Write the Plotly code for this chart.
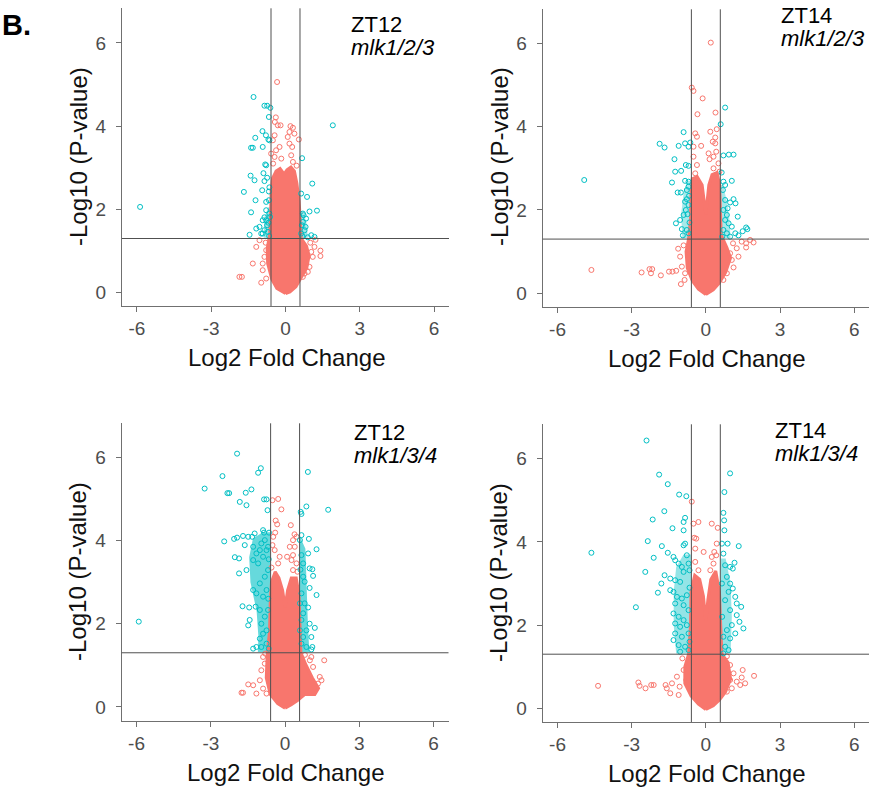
import plotly.graph_objects as go

# ---------------- data ----------------
x_ticks = [-6, -3, 0, 3, 6]
x_tick_text = ["-6", "-3", "0", "3", "6"]
y_ticks = [0, 2, 4, 6]
y_tick_text = ["0", "2", "4", "6"]
fc_cut = 0.585      # log2(1.5)
p_cut = 1.301       # -log10(0.05)

panel_time = ["ZT12", "ZT14", "ZT12", "ZT14"]
panel_geno = ["mlk1/2/3", "mlk1/2/3", "mlk1/3/4", "mlk1/3/4"]

# panel 1: ZT12 mlk1/2/3
p1_teal = [(-5.87, 2.06), (1.91, 4.02), (-1.29, 4.70), (-0.85, 4.49), (-0.74, 4.49), (-0.61, 4.44),
           (-0.67, 4.22), (-0.93, 3.88), (-0.79, 3.78), (-1.22, 3.72), (-0.69, 3.68), (-0.65, 3.66),
           (-1.32, 3.48), (-1.39, 3.48), (-0.92, 3.50), (0.67, 3.23), (-0.82, 3.08), (-0.78, 3.06),
           (-1.41, 2.81), (-0.89, 2.87), (-1.25, 2.70), (-0.85, 2.68), (-0.74, 2.76), (1.08, 2.62),
           (-1.68, 2.42), (-0.94, 2.46), (-0.67, 2.43), (-0.65, 2.53), (0.87, 2.30), (-1.21, 2.22),
           (-0.78, 2.18), (-0.67, 2.22), (0.63, 2.38), (1.27, 1.97), (0.97, 1.95), (-1.39, 1.93),
           (0.70, 1.90), (-0.85, 1.81), (-0.78, 1.74), (-0.69, 1.68), (-1.18, 1.54), (-1.05, 1.58),
           (-0.85, 1.50), (-1.45, 1.39), (-0.98, 1.42), (-0.71, 1.46), (0.70, 1.70), (0.83, 1.78),
           (0.77, 1.50), (1.04, 1.38), (1.17, 1.34), (0.63, 1.42), (0.90, 1.33), (0.73, 1.86),
           (0.81, 1.58), (-0.78, 1.98), (-0.65, 1.90), (-0.62, 1.82), (-0.92, 1.74), (-0.74, 1.62),
           (-0.92, 1.42), (0.66, 1.62), (0.68, 1.36), (-0.66, 1.36)]
p1_salmon = [(-0.34, 5.06), (-0.39, 4.21), (-0.43, 4.10), (-0.31, 4.02), (-0.20, 4.02), (0.20, 4.00),
             (0.30, 3.96), (0.16, 3.86), (0.36, 3.82), (0.09, 3.74), (0.54, 3.68), (-0.44, 3.78),
             (-0.51, 3.66), (-0.24, 3.50), (0.16, 3.58), (0.27, 3.50), (-0.38, 3.42), (-0.58, 3.34),
             (-0.44, 3.26), (-0.17, 3.22), (0.23, 3.30), (0.30, 3.14), (-0.50, 3.10), (0.45, 3.05),
             (-1.18, 1.10), (-1.05, 1.26), (-1.32, 0.70), (-1.86, 0.38), (-1.76, 0.38), (-0.98, 0.24),
             (-0.92, 0.54), (-0.78, 0.34), (-0.85, 0.86), (-0.92, 0.70), (-0.78, 1.02), (1.41, 1.01),
             (1.41, 0.88), (1.21, 1.27), (1.17, 1.10), (1.10, 0.86), (0.97, 0.62), (0.77, 0.46),
             (0.70, 0.38), (1.04, 0.98), (0.83, 0.70), (1.00, 1.20), (0.90, 0.50), (-0.80, 1.20)]
p1_core_x = [0.00, -0.35, -0.55, -0.72, -0.74, -0.64, -0.60, -0.58, -0.52, -0.38, -0.22, -0.06,
             0.06, 0.22, 0.36, 0.46, 0.55, 0.60, 0.64, 0.85, 0.95, 0.86, 0.62, 0.42, 0.18]
p1_core_y = [-0.02, 0.10, 0.32, 0.70, 1.05, 1.40, 1.90, 2.40, 2.75, 2.92, 2.98, 2.85,
             2.95, 3.02, 2.92, 2.62, 2.20, 1.70, 1.30, 1.12, 0.88, 0.60, 0.36, 0.14, 0.02]
# densest teal clusters beside the fold-change cut-offs (outlines)
p1_band_x = [[-0.60, -0.88, -0.86, -0.70, -0.60], [0.60, 0.90, 0.84, 0.70, 0.60]]
p1_band_y = [[1.32, 1.32, 1.80, 2.05, 2.05], [1.32, 1.32, 1.70, 1.95, 1.95]]

# panel 2: ZT14 mlk1/2/3
p2_teal = [(-4.92, 2.72), (0.78, 4.46), (0.60, 4.06), (-0.90, 3.87), (-1.87, 3.59), (-1.67, 3.50),
           (-1.10, 3.54), (-0.84, 3.60), (-0.63, 3.62), (-0.70, 3.52), (1.12, 3.33), (0.93, 3.33),
           (0.71, 3.31), (-1.27, 3.22), (-1.24, 2.92), (-1.00, 2.94), (-0.81, 3.08), (-0.70, 3.06),
           (-1.37, 2.66), (-0.84, 2.70), (-0.70, 2.68), (-1.14, 2.42), (-1.01, 2.42), (-0.77, 2.48),
           (-0.70, 2.56), (1.05, 2.70), (0.71, 2.68), (0.78, 2.60), (0.69, 2.48), (1.12, 2.26),
           (1.20, 2.16), (0.98, 2.18), (0.78, 2.24), (-0.77, 2.26), (-0.84, 2.20), (-0.70, 2.12),
           (-0.81, 2.00), (-0.74, 1.90), (-0.90, 1.88), (-1.04, 1.76), (-1.21, 1.68), (-0.97, 1.54),
           (-0.77, 1.52), (-0.93, 1.39), (-0.70, 1.44), (1.29, 1.84), (0.85, 1.88), (0.78, 1.76),
           (0.92, 1.68), (1.05, 1.60), (1.63, 1.58), (1.68, 1.54), (1.49, 1.49), (1.32, 1.39),
           (1.19, 1.44), (0.85, 1.44), (0.98, 1.36), (0.71, 1.52), (0.71, 2.00), (0.88, 2.04),
           (-0.66, 1.70), (-0.68, 2.34), (0.66, 1.36), (0.64, 2.90)]
p2_salmon = [(0.20, 6.02), (-0.57, 4.94), (-0.50, 4.86), (-0.13, 4.68), (0.39, 4.34), (-0.34, 4.30),
             (0.44, 3.94), (0.18, 3.88), (-0.43, 3.84), (-0.36, 3.76), (0.38, 3.74), (0.28, 3.64),
             (0.38, 3.60), (-0.50, 3.52), (-0.19, 3.54), (0.11, 3.36), (0.42, 3.40), (0.31, 3.28),
             (0.15, 3.22), (0.51, 3.12), (-0.50, 3.28), (-0.36, 3.08), (-0.43, 2.88), (0.31, 3.00),
             (0.55, 2.92), (-4.63, 0.56), (-2.60, 0.50), (-2.28, 0.58), (-2.17, 0.58), (-2.22, 0.48),
             (-1.82, 0.43), (-1.49, 0.52), (-1.35, 0.52), (-1.20, 0.54), (-1.12, 1.07), (-1.04, 0.88),
             (-1.01, 0.22), (-0.86, 0.32), (-0.97, 0.64), (-0.84, 0.48), (1.12, 0.62), (1.93, 1.22),
             (1.79, 1.28), (1.63, 1.20), (1.45, 1.24), (1.63, 1.10), (1.32, 0.88), (1.25, 1.08),
             (1.05, 0.80), (0.98, 0.96), (0.85, 0.48), (0.71, 0.32), (1.10, 1.20), (-0.90, 1.15)]
p2_core_x = [0.00, -0.30, -0.55, -0.75, -0.80, -0.70, -0.62, -0.60, -0.55, -0.35, -0.15, -0.05,
             0.00, 0.05, 0.12, 0.25, 0.45, 0.56, 0.60, 0.62, 0.85, 1.00, 0.80, 0.55, 0.30]
p2_core_y = [-0.03, 0.10, 0.30, 0.60, 1.00, 1.30, 1.80, 2.40, 2.75, 2.80, 2.60, 2.20,
             1.90, 2.20, 2.60, 2.85, 2.90, 2.60, 2.00, 1.40, 1.10, 0.85, 0.50, 0.25, 0.08]
p2_band_x = [[-0.60, -0.95, -1.00, -0.90, -0.75, -0.60], [0.60, 1.00, 0.95, 0.85, 0.70, 0.60]]
p2_band_y = [[1.32, 1.32, 1.90, 2.40, 2.70, 2.70], [1.32, 1.32, 1.80, 2.20, 2.60, 2.60]]

# panel 3: ZT12 mlk1/3/4
p3_teal = [(-5.91, 2.05), (-1.94, 6.09), (-0.98, 5.74), (-1.09, 5.63), (-2.53, 5.55), (-3.25, 5.25),
           (-2.33, 5.14), (-2.26, 5.14), (-1.59, 5.15), (-1.36, 5.23), (-1.83, 4.93), (-1.56, 4.85),
           (-0.85, 4.99), (-0.75, 4.99), (-0.71, 4.73), (0.92, 5.65), (0.86, 4.82), (0.63, 4.69),
           (0.66, 4.64), (1.74, 4.74), (-2.46, 3.98), (-2.06, 4.04), (-1.94, 4.07), (-1.70, 4.11),
           (-1.49, 4.09), (-1.33, 4.09), (-1.23, 4.17), (-0.89, 4.25), (-0.85, 4.19), (-0.65, 4.19),
           (-1.63, 3.89), (-2.03, 3.60), (-1.86, 3.57), (-1.86, 3.21), (-1.56, 3.29), (-1.29, 3.85),
           (-1.16, 3.69), (-1.02, 3.77), (-1.29, 3.53), (-1.09, 3.45), (-0.89, 3.61), (-0.75, 3.77),
           (-0.96, 3.93), (-0.82, 4.01), (-0.69, 3.85), (-1.29, 2.81), (-1.16, 2.73), (-1.02, 2.97),
           (-0.82, 3.13), (-0.75, 2.81), (-0.69, 3.29), (-0.89, 2.65), (-1.72, 2.42), (-1.45, 2.39),
           (-1.19, 2.41), (-1.02, 2.33), (-1.43, 2.09), (-1.49, 1.96), (-0.96, 2.00), (-0.82, 2.17),
           (-0.69, 2.33), (-0.89, 1.76), (-0.75, 1.84), (-1.02, 1.64), (-1.16, 1.44), (-1.29, 1.40),
           (-0.96, 1.44), (-0.75, 1.52), (0.66, 4.13), (0.60, 4.01), (0.96, 4.04), (1.27, 3.79),
           (0.93, 3.69), (0.66, 3.65), (0.73, 3.45), (0.99, 3.33), (1.10, 3.31), (1.13, 3.15),
           (1.27, 2.69), (0.99, 2.86), (0.79, 3.01), (0.73, 3.13), (0.66, 2.73), (0.79, 2.49),
           (0.93, 2.39), (0.73, 2.25), (0.99, 2.00), (1.20, 1.90), (1.06, 1.68), (0.86, 1.84),
           (0.66, 2.09), (0.73, 1.68), (0.66, 1.52), (0.86, 1.44), (1.06, 1.38), (1.10, 1.44),
           (0.60, 1.84), (0.60, 2.49), (-0.66, 1.40), (-0.68, 2.60), (-0.66, 3.55), (0.62, 3.30)]
p3_salmon = [(-0.51, 4.97), (-0.28, 5.00), (-0.15, 4.75), (-0.38, 4.48), (-0.32, 4.39), (0.23, 4.37),
             (-0.40, 4.19), (0.38, 4.15), (0.46, 4.09), (0.32, 4.01), (0.19, 3.85), (0.39, 3.85),
             (-0.48, 4.09), (-0.51, 3.89), (-0.42, 3.77), (-0.22, 3.61), (-0.28, 3.45), (0.08, 3.61),
             (0.26, 3.53), (0.46, 3.45), (0.32, 3.29), (0.32, 3.65), (1.58, 1.12), (1.40, 0.72),
             (1.47, 0.64), (1.33, 0.56), (1.20, 0.48), (1.13, 0.96), (1.00, 1.12), (1.06, 1.20),
             (0.93, 0.80), (-1.49, 0.54), (-1.29, 0.52), (-1.76, 0.34), (-1.70, 0.34), (-1.16, 0.32),
             (-1.02, 0.64), (-0.96, 0.88), (-0.89, 1.20), (-0.82, 1.04), (-0.89, 0.44), (-0.75, 0.32),
             (-0.55, 3.35), (0.50, 3.25), (0.80, 1.25), (-0.80, 1.28)]
p3_core_x = [0.00, -0.30, -0.60, -0.76, -0.72, -0.63, -0.60, -0.55, -0.40, -0.25, -0.10, 0.00,
             0.10, 0.25, 0.45, 0.56, 0.60, 0.64, 0.85, 1.10, 1.35, 1.20, 0.80, 0.50, 0.25]
p3_core_y = [-0.03, 0.08, 0.30, 0.70, 1.30, 1.80, 2.50, 3.00, 3.25, 3.10, 2.80, 2.40,
             2.80, 3.10, 3.10, 2.70, 2.00, 1.30, 1.00, 0.70, 0.45, 0.30, 0.30, 0.15, 0.05]
p3_band_x = [[-0.60, -1.10, -1.08, -1.15, -1.40, -1.45, -1.30, -0.90, -0.60],
             [0.60, 0.98, 0.92, 0.88, 0.82, 0.60]]
p3_band_y = [[1.32, 1.32, 1.70, 2.30, 3.00, 3.60, 4.05, 4.20, 4.20],
             [1.32, 1.32, 2.00, 3.00, 3.80, 4.10]]

# panel 4: ZT14 mlk1/3/4
p4_teal = [(-2.40, 6.44), (0.98, 5.65), (-1.89, 5.62), (-1.54, 5.39), (0.75, 5.20), (-1.08, 5.14),
           (-0.79, 5.10), (-1.68, 4.74), (0.71, 4.70), (0.74, 4.52), (-0.84, 4.58), (-0.90, 4.48),
           (-2.15, 4.54), (-1.35, 4.33), (-0.90, 4.28), (0.75, 4.28), (-2.35, 4.02), (-1.78, 3.90),
           (-0.90, 3.92), (-0.84, 3.96), (0.65, 3.96), (0.88, 3.96), (1.33, 3.90), (-1.54, 3.74),
           (-2.11, 3.62), (-1.31, 3.64), (-1.24, 3.56), (-1.10, 3.48), (-0.77, 3.68), (-0.70, 3.48),
           (-0.97, 3.40), (-0.90, 3.28), (-0.66, 3.32), (-2.45, 3.28), (-1.67, 3.20), (-1.44, 3.12),
           (-1.24, 3.08), (-1.04, 3.04), (-1.80, 3.00), (-1.44, 2.84), (-1.31, 2.80), (-1.94, 2.78),
           (-1.17, 2.68), (-0.97, 2.64), (-0.77, 2.72), (-1.24, 2.52), (-0.90, 2.48), (-0.70, 2.36),
           (-2.83, 2.43), (-1.31, 2.28), (-1.10, 2.20), (-0.90, 2.12), (-1.24, 2.04), (-1.04, 1.96),
           (-0.77, 2.00), (-1.24, 1.80), (-0.97, 1.72), (-0.70, 1.80), (-1.31, 1.64), (-1.10, 1.52),
           (-0.84, 1.48), (-1.04, 1.36), (-0.70, 1.40), (0.71, 3.72), (0.78, 3.44), (0.98, 3.40),
           (1.16, 3.50), (1.09, 3.36), (0.85, 3.16), (0.98, 3.00), (1.09, 2.88), (1.19, 2.68),
           (0.92, 2.80), (0.78, 2.60), (1.25, 2.52), (1.43, 2.44), (0.98, 2.36), (1.25, 2.24),
           (1.36, 2.08), (1.05, 2.00), (1.52, 1.92), (1.19, 1.80), (0.85, 1.88), (0.98, 1.68),
           (0.71, 1.72), (0.78, 1.48), (0.92, 1.40), (0.71, 1.32), (-4.63, 3.74), (0.66, 2.20),
           (0.65, 3.00), (-0.66, 2.90), (-0.66, 1.60)]
p4_salmon = [(-0.57, 4.97), (-0.50, 4.44), (-0.30, 4.48), (0.24, 4.44), (0.48, 4.34), (-0.47, 4.10),
             (-0.39, 4.08), (0.44, 3.96), (-0.43, 3.84), (-0.09, 3.76), (0.34, 3.76), (0.24, 3.64),
             (0.42, 3.68), (-0.43, 3.52), (0.31, 3.48), (0.18, 3.32), (-0.30, 3.32), (-4.36, 0.54),
             (-2.73, 0.62), (-2.68, 0.54), (-2.44, 0.48), (-2.21, 0.56), (-2.11, 0.56), (-1.63, 0.56),
             (-1.58, 0.48), (-1.37, 0.60), (-1.44, 0.36), (-1.10, 0.32), (-1.17, 0.76), (-1.06, 0.52),
             (-0.90, 0.92), (-0.79, 0.68), (1.95, 0.78), (1.49, 0.92), (1.45, 0.74), (1.59, 0.60),
             (1.39, 0.56), (1.25, 0.64), (1.12, 0.84), (0.98, 1.04), (1.05, 0.48), (0.85, 0.40),
             (0.98, 0.68), (-0.95, 1.20), (0.85, 1.25)]
p4_core_x = [0.00, -0.30, -0.60, -0.85, -0.85, -0.70, -0.62, -0.60, -0.45, -0.25, -0.10, 0.00,
             0.08, 0.20, 0.40, 0.55, 0.60, 0.65, 0.90, 1.00, 0.80, 0.55, 0.30]
p4_core_y = [-0.03, 0.10, 0.30, 0.60, 1.00, 1.30, 2.00, 2.80, 3.20, 3.10, 2.70, 2.10,
             2.60, 3.10, 3.30, 2.80, 2.00, 1.30, 1.10, 0.70, 0.40, 0.20, 0.06]
p4_band_x = [[-0.60, -1.20, -1.30, -1.30, -1.20, -0.90, -0.60],
             [0.60, 1.00, 1.05, 1.00, 0.80, 0.60]]
p4_band_y = [[1.32, 1.32, 2.00, 2.80, 3.40, 3.70, 3.70],
             [1.32, 1.32, 2.20, 3.00, 3.60, 3.60]]

panels = [
    (p1_teal, p1_salmon, p1_core_x, p1_core_y, p1_band_x, p1_band_y, 0.40),
    (p2_teal, p2_salmon, p2_core_x, p2_core_y, p2_band_x, p2_band_y, 0.35),
    (p3_teal, p3_salmon, p3_core_x, p3_core_y, p3_band_x, p3_band_y, 0.60),
    (p4_teal, p4_salmon, p4_core_x, p4_core_y, p4_band_x, p4_band_y, 0.42),
]

# ---------------- layout geometry (pixels in an 869x787 page) ----------------
W, H = 869, 787
TEAL = "#00BFC4"
SALMON = "#F8766D"
AXIS_COL = "#707070"
REF_COL = "#505050"
FONT = "Liberation Sans, Arial, sans-serif"

x_dom = [(122, 449), (542.7, 869), (121.7, 448.5), (542.7, 869)]
y_dom = [(8.3, 306), (9.3, 307), (423.3, 721), (424.3, 722)]   # top, bottom in px
y_rng = [(-0.32, 6.83), (-0.33, 6.82), (-0.34, 6.82), (-0.33, 6.83)]
x_rng = (-6.6, 6.6)


def hex_rgba(h, a):
    h = h.lstrip("#")
    return f"rgba({int(h[0:2], 16)},{int(h[2:4], 16)},{int(h[4:6], 16)},{a})"


fig = go.Figure()
layout = dict(width=W, height=H, margin=dict(l=0, r=0, t=0, b=0), autosize=False,
              plot_bgcolor="white", paper_bgcolor="white", showlegend=False,
              font=dict(family=FONT))
shapes = []
annotations = []

for i, (teal, salmon, cx, cy, bx, by, bop) in enumerate(panels):
    n = i + 1
    xa = "x" if n == 1 else f"x{n}"
    ya = "y" if n == 1 else f"y{n}"
    # dense teal clusters (significant genes packed next to the cut-offs)
    for bxx, byy in zip(bx, by):
        fig.add_trace(go.Scatter(x=bxx + bxx[:1], y=byy + byy[:1], mode="lines", fill="toself",
                                 fillcolor=hex_rgba(TEAL, bop),
                                 line=dict(color="rgba(0,0,0,0)", width=0),
                                 xaxis=xa, yaxis=ya, hoverinfo="skip"))
    # dense core of non-significant genes
    fig.add_trace(go.Scatter(x=cx + cx[:1], y=cy + cy[:1], mode="lines", fill="toself",
                             fillcolor=SALMON, line=dict(color=SALMON, width=3),
                             xaxis=xa, yaxis=ya, hoverinfo="skip"))
    fig.add_trace(go.Scatter(x=[p[0] for p in salmon], y=[p[1] for p in salmon], mode="markers",
                             marker=dict(symbol="circle-open", size=5, color=SALMON,
                                         line=dict(width=1, color=SALMON)),
                             xaxis=xa, yaxis=ya))
    fig.add_trace(go.Scatter(x=[p[0] for p in teal], y=[p[1] for p in teal], mode="markers",
                             marker=dict(symbol="circle-open", size=5, color=TEAL,
                                         line=dict(width=1, color=TEAL)),
                             xaxis=xa, yaxis=ya))
    axis_common = dict(showline=True, linecolor=AXIS_COL, linewidth=1.2, ticks="outside",
                       ticklen=5, tickwidth=1.2, tickcolor=AXIS_COL, showgrid=False,
                       zeroline=False, tickfont=dict(size=19, color="#4d4d4d", family=FONT))
    x0, x1 = x_dom[i]
    t, b = y_dom[i]
    layout["xaxis" if n == 1 else f"xaxis{n}"] = dict(
        axis_common, domain=[x0 / W, min(x1 / W, 1.0)], range=list(x_rng),
        tickvals=x_ticks, ticktext=x_tick_text, anchor=ya)
    layout["yaxis" if n == 1 else f"yaxis{n}"] = dict(
        axis_common, domain=[1 - b / H, 1 - t / H], range=list(y_rng[i]),
        tickvals=y_ticks, ticktext=y_tick_text, anchor=xa, ticklabelstandoff=6)
    # reference lines
    for v in (-fc_cut, fc_cut):
        shapes.append(dict(type="line", xref=xa, yref=f"{ya} domain", x0=v, x1=v, y0=0, y1=1,
                           line=dict(color=REF_COL, width=1)))
    shapes.append(dict(type="line", xref=f"{xa} domain", yref=ya, x0=0, x1=1, y0=p_cut, y1=p_cut,
                       line=dict(color=REF_COL, width=1)))

# text positions (pixels)
xtitle_pos = [(286, 357), (706, 358), (285, 772), (706, 773)]
ytitle_pos = [(79, 157), (500, 157), (77, 572), (498, 573)]
label_pos = [(349, 25, 48), (779, 15, 38), (352, 432, 455), (773, 430, 453)]

for i in range(4):
    px, py = xtitle_pos[i]
    annotations.append(dict(text="Log2 Fold Change", x=px / W, y=1 - py / H, xref="paper",
                            yref="paper", showarrow=False, xanchor="center", yanchor="middle",
                            font=dict(size=24, color="#111111", family=FONT)))
    px, py = ytitle_pos[i]
    annotations.append(dict(text="-Log10 (P-value)", x=px / W, y=1 - py / H, xref="paper",
                            yref="paper", showarrow=False, xanchor="center", yanchor="middle",
                            textangle=-90, font=dict(size=24, color="#111111", family=FONT)))
    lx, ly1, ly2 = label_pos[i]
    annotations.append(dict(text=panel_time[i], x=lx / W, y=1 - ly1 / H, xref="paper",
                            yref="paper", showarrow=False, xanchor="left", yanchor="middle",
                            font=dict(size=22, color="black", family=FONT)))
    annotations.append(dict(text=f"<i>{panel_geno[i]}</i>", x=lx / W, y=1 - ly2 / H,
                            xref="paper", yref="paper", showarrow=False, xanchor="left",
                            yanchor="middle", font=dict(size=22, color="black", family=FONT)))

annotations.append(dict(text="<b>B.</b>", x=0 / W, y=1 - 25 / H, xref="paper", yref="paper",
                        showarrow=False, xanchor="left", yanchor="middle",
                        font=dict(size=29, color="black", family=FONT)))

layout["shapes"] = shapes
layout["annotations"] = annotations
fig.update_layout(**layout)
fig.write_html("out.html", config={"displayModeBar": False},
               post_script="document.body.style.margin='0';document.body.style.padding='0';")
